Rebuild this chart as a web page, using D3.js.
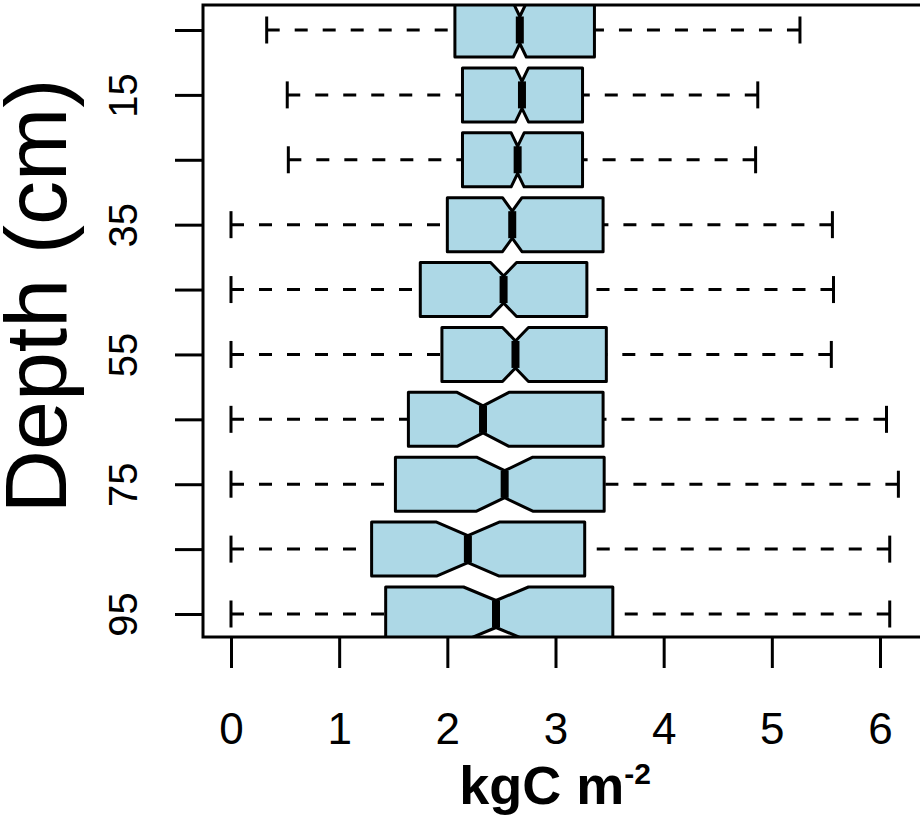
<!DOCTYPE html>
<html>
<head>
<meta charset="utf-8">
<script src="https://cdn.jsdelivr.net/npm/d3@7"></script>
<style>
  body { margin: 0; background: white; }
  svg { display: block; font-family: "Liberation Sans", Arial, sans-serif; }
</style>
</head>
<body>
<div id="chart"></div>
<script>
// depth classes (cm), one box per class
const depths = [5, 15, 25, 35, 45, 55, 65, 75, 85, 95]
const whiskLo = [0.33, 0.52, 0.53, 0, 0, 0, 0, 0, 0, 0]
const q1 = [2.07, 2.14, 2.14, 2.00, 1.75, 1.95, 1.64, 1.52, 1.30, 1.43]
const med = [2.67, 2.69, 2.65, 2.60, 2.52, 2.63, 2.33, 2.53, 2.19, 2.45]
const q3 = [3.36, 3.25, 3.25, 3.44, 3.29, 3.47, 3.44, 3.45, 3.27, 3.53]
const whiskHi = [5.26, 4.87, 4.85, 5.56, 5.57, 5.55, 6.06, 6.17, 6.09, 6.09]
const notchLo = [2.61, 2.63, 2.59, 2.51, 2.40, 2.51, 2.09, 2.27, 1.90, 2.15]
const notchHi = [2.73, 2.75, 2.71, 2.69, 2.64, 2.75, 2.57, 2.79, 2.48, 2.75]
const xTicks = [0, 1, 2, 3, 4, 5, 6]

const w = 920
const h = 815
const plot = { left: 203, top: 5, right: 930, bottom: 637 }

const svg = d3.select('#chart')
    .append('svg')
    .attr('width', w)
    .attr('height', h)

const xScale = d3.scaleLinear()
    .domain([0, 6])
    .range([231, 880])

const yScale = d3.scaleLinear()
    .domain([1, 10])
    .range([30, 614])

const halfH = 27
const notchH = halfH / 2

svg.append('clipPath')
    .attr('id', 'clip')
    .append('rect')
    .attr('x', plot.left)
    .attr('y', plot.top)
    .attr('width', plot.right - plot.left)
    .attr('height', plot.bottom - plot.top)

const g = svg.append('g').attr('clip-path', 'url(#clip)')

const rows = depths.map((d, i) => ({
    depth: d, y: yScale(i + 1),
    lo: whiskLo[i], q1: q1[i], med: med[i], q3: q3[i], hi: whiskHi[i],
    nlo: notchLo[i], nhi: notchHi[i]
}))

// whiskers (drawn from the staple toward the box)
g.selectAll('.whisk-l')
    .data(rows)
    .enter()
    .append('line')
    .attr('x1', d => xScale(d.lo))
    .attr('x2', d => xScale(d.q1))
    .attr('y1', d => d.y)
    .attr('y2', d => d.y)
    .attr('stroke', 'black')
    .attr('stroke-width', 3)
    .attr('stroke-dasharray', '13 15')

g.selectAll('.whisk-r')
    .data(rows)
    .enter()
    .append('line')
    .attr('x1', d => xScale(d.hi))
    .attr('x2', d => xScale(d.q3))
    .attr('y1', d => d.y)
    .attr('y2', d => d.y)
    .attr('stroke', 'black')
    .attr('stroke-width', 3)
    .attr('stroke-dasharray', '13 15')

// staples
g.selectAll('.staple')
    .data(rows.flatMap(d => [{ x: d.lo, y: d.y }, { x: d.hi, y: d.y }]))
    .enter()
    .append('line')
    .attr('x1', d => xScale(d.x))
    .attr('x2', d => xScale(d.x))
    .attr('y1', d => d.y - notchH)
    .attr('y2', d => d.y + notchH)
    .attr('stroke', 'black')
    .attr('stroke-width', 3)

// notched boxes
const boxPath = (d) => {
    const pts = [
        [xScale(d.q1), d.y - halfH],
        [xScale(d.nlo), d.y - halfH],
        [xScale(d.med), d.y - notchH],
        [xScale(d.nhi), d.y - halfH],
        [xScale(d.q3), d.y - halfH],
        [xScale(d.q3), d.y + halfH],
        [xScale(d.nhi), d.y + halfH],
        [xScale(d.med), d.y + notchH],
        [xScale(d.nlo), d.y + halfH],
        [xScale(d.q1), d.y + halfH]
    ]
    return d3.line()(pts) + 'Z'
}

g.selectAll('.box')
    .data(rows)
    .enter()
    .append('path')
    .attr('d', boxPath)
    .attr('fill', '#add8e6')
    .attr('stroke', 'black')
    .attr('stroke-width', 3)
    .attr('stroke-linejoin', 'round')

// medians
g.selectAll('.median')
    .data(rows)
    .enter()
    .append('line')
    .attr('x1', d => xScale(d.med))
    .attr('x2', d => xScale(d.med))
    .attr('y1', d => d.y - notchH)
    .attr('y2', d => d.y + notchH)
    .attr('stroke', 'black')
    .attr('stroke-width', 8)

// frame
svg.append('rect')
    .attr('x', plot.left)
    .attr('y', plot.top)
    .attr('width', plot.right - plot.left)
    .attr('height', plot.bottom - plot.top)
    .attr('fill', 'none')
    .attr('stroke', 'black')
    .attr('stroke-width', 3)

// x axis
const xAxis = d3.axisBottom(xScale)
    .tickValues(xTicks)
    .tickSize(31)
    .tickFormat(d3.format('d'))

const xg = svg.append('g')
    .attr('transform', `translate(0, ${plot.bottom})`)
    .call(xAxis)
xg.select('.domain').remove()
xg.selectAll('line').attr('stroke-width', 3)
xg.selectAll('text')
    .attr('dy', null)
    .attr('y', 107)
    .style('font-size', '44px')
    .style('font-family', '"Liberation Sans", Arial, sans-serif')
    .attr('fill', 'black')

// y axis
const yAxis = d3.axisLeft(yScale)
    .tickValues(d3.range(1, 11))
    .tickSize(28)
    .tickFormat((d, i) => i % 2 === 1 ? depths[i] : '')

const yg = svg.append('g')
    .attr('transform', `translate(${plot.left}, 0)`)
    .call(yAxis)
yg.select('.domain').remove()
yg.selectAll('line').attr('stroke-width', 3)
yg.selectAll('text')
    .attr('x', null)
    .attr('y', 0)
    .attr('dy', null)
    .attr('text-anchor', 'middle')
    .attr('transform', 'translate(-66, 0) rotate(-90)')
    .style('font-size', '40px')
    .style('font-family', '"Liberation Sans", Arial, sans-serif')
    .attr('fill', 'black')

// titles
const xt = svg.append('text')
    .attr('x', 555)
    .attr('y', 804)
    .attr('text-anchor', 'middle')
    .style('font-size', '54px')
    .style('font-weight', 'bold')
xt.append('tspan').text('kgC m')
xt.append('tspan')
    .attr('dy', -20)
    .style('font-size', '30px')
    .text('-2')

svg.append('text')
    .attr('transform', 'translate(66, 296) rotate(-90)')
    .attr('text-anchor', 'middle')
    .style('font-size', '88px')
    .text('Depth (cm)')
</script>
</body>
</html>
